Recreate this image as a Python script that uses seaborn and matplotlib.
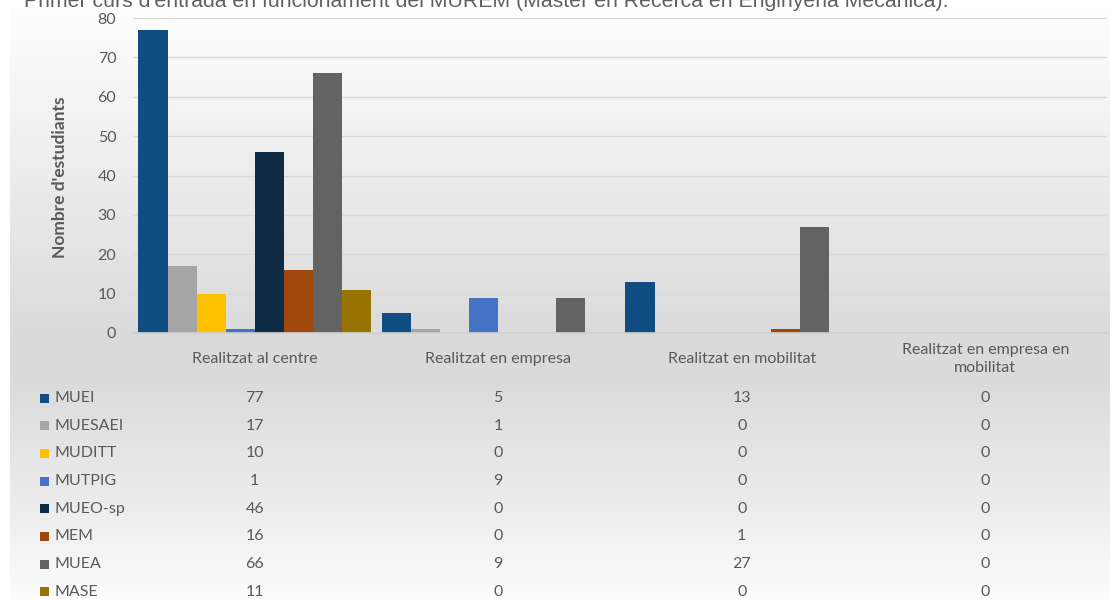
import numpy as np
import pandas as pd
import matplotlib
matplotlib.use("Agg")
import matplotlib.pyplot as plt
import matplotlib.transforms as mtransforms
import seaborn as sns

categories = ["Realitzat al centre", "Realitzat en empresa", "Realitzat en mobilitat",
              "Realitzat en empresa en\nmobilitat"]
programs = ["MUEI", "MUESAEI", "MUDITT", "MUTPIG", "MUEO-sp", "MEM", "MUEA", "MASE"]
muei = [77, 5, 13, 0]
muesaei = [17, 1, 0, 0]
muditt = [10, 0, 0, 0]
mutpig = [1, 9, 0, 0]
mueo_sp = [46, 0, 0, 0]
mem = [16, 0, 1, 0]
muea = [66, 9, 27, 0]
mase = [11, 0, 0, 0]
series = [muei, muesaei, muditt, mutpig, mueo_sp, mem, muea, mase]
title = "Primer curs d'entrada en funcionament del MUREM (Màster en Recerca en Enginyeria Mecànica)."
ylabel = "Nombre d'estudiants"
yticks = [0, 10, 20, 30, 40, 50, 60, 70, 80]

colors = ["#0f4d82", "#a5a5a5", "#ffc000", "#4472c4", "#0e2a45", "#9e480e", "#636363", "#997300"]

rows = []
for p, vals in zip(programs, series):
    for c, v in zip(categories, vals):
        rows.append({"cat": c, "prog": p, "val": v})
df = pd.DataFrame(rows)

sns.set_theme(style="white")
plt.rcParams["font.family"] = ["Lato", "DejaVu Sans"]

W, H = 1110, 599
fig = plt.figure(figsize=(W / 100, H / 100), dpi=100)
fig.patch.set_facecolor("white")

def fx(px):
    return px / W

def fy(py):
    return 1 - py / H

# gradient background panel
bg = fig.add_axes([fx(10), 0, 1 - fx(10), fy(9)], zorder=-5)
ys = np.linspace(0, 1, 300)  # 0 top -> 1 bottom
stops_y = [0, 0.05, 0.56, 0.62, 0.85, 1.0]
stops_v = [0.99, 0.985, 0.855, 0.855, 0.93, 0.99]
vals = np.interp(ys, stops_y, stops_v)
grad = np.repeat(vals[:, None], 2, axis=1)
bg.imshow(np.dstack([grad, grad, grad]), aspect="auto", extent=[0, 1, 0, 1], interpolation="bicubic")
bg.set_axis_off()

ax = fig.add_axes([fx(133), fy(333), fx(1107) - fx(133), fy(18) - fy(333)])
ax.patch.set_alpha(0)
sns.barplot(data=df, x="cat", y="val", hue="prog", hue_order=programs, order=categories,
            palette=colors, width=0.955, gap=0, saturation=1, ax=ax, legend=False,
            edgecolor="none", linewidth=0, errorbar=None)
ax.set_xlim(-0.5, 3.5)
ax.set_ylim(0, 80)
ax.set_yticks(yticks)
ax.set_yticklabels([str(t) for t in yticks], color="#595959", fontsize=11.5)
ax.tick_params(axis="y", length=0, pad=12)
ax.set_xticks([])
ax.set_xlabel("")
ax.set_ylabel("")
ax.yaxis.grid(True, color="#d9d9d9", linewidth=1)
ax.set_axisbelow(True)
for s in ["top", "right", "left"]:
    ax.spines[s].set_visible(False)
ax.spines["bottom"].set_color("#d0d0d0")

fig.text(fx(60), fy(177), ylabel, rotation=90, ha="center", va="center",
         fontsize=12.5, fontweight="bold", color="#595959")

fig.text(fx(24), fy(7), title, ha="left", va="baseline", fontsize=15.3,
         color="#606060", family=["Liberation Sans", "DejaVu Sans"], zorder=10)

# data table
trans = mtransforms.blended_transform_factory(ax.transData, fig.transFigure)
for i, c in enumerate(categories):
    ax.text(i, fy(359), c, transform=trans, ha="center", va="center", fontsize=11.5,
            color="#595959", linespacing=1.4, clip_on=False)
row_y = [398 + 27.7 * k for k in range(len(programs))]
for k, (p, vals_, col) in enumerate(zip(programs, series, colors)):
    yy = fy(row_y[k])
    fig.patches.append(plt.Rectangle((fx(40), yy - 4.5 / H), 9 / W, 9 / H, transform=fig.transFigure,
                                     facecolor=col, edgecolor="none"))
    fig.text(fx(55), yy, p, ha="left", va="center", fontsize=11.5, color="#595959")
    for i, v in enumerate(vals_):
        ax.text(i, yy, str(v), transform=trans, ha="center", va="center", fontsize=11.5,
                color="#595959", clip_on=False)

fig.savefig("out.png", dpi=100)
